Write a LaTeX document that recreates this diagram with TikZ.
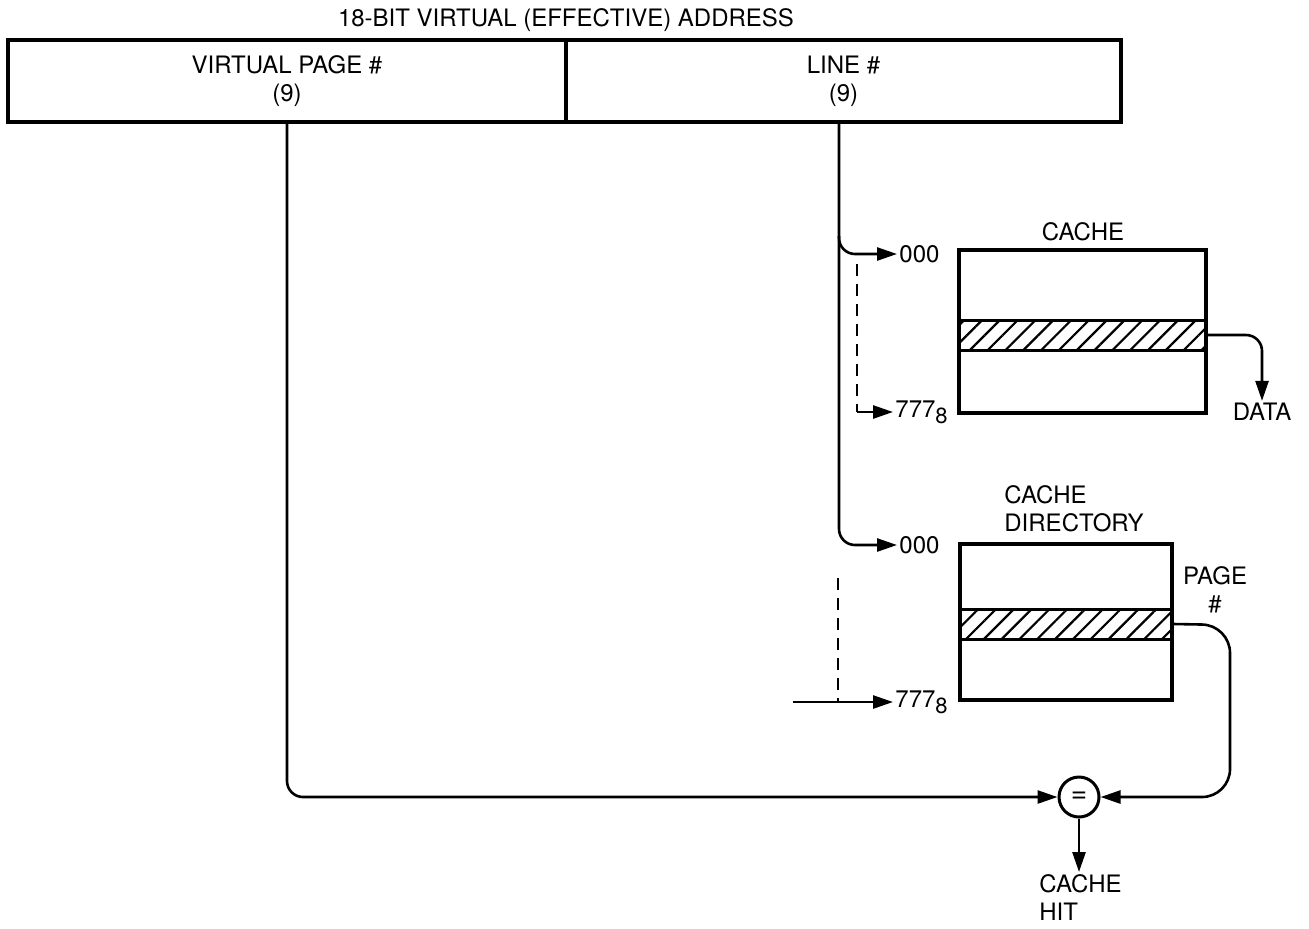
\documentclass[tikz,border=0pt]{standalone}
\usepackage{fontspec}
\setmainfont{TeX Gyre Heros}
\usepackage{tikz}
\usetikzlibrary{arrows.meta, positioning, calc, patterns.meta}

\begin{document}
\begin{tikzpicture}[
  x=0.5pt, y=-0.5pt,
  >={Triangle[length=10pt, width=6.5pt]},
  font=\fontsize{12}{14}\selectfont,
  field/.style={
    draw, line width=1.6pt, minimum height=41pt, align=center,
    inner sep=0pt
  },
  membox/.style={draw, line width=1.6pt, inner sep=0pt},
  band/.style={
    draw, line width=1.5pt, inner sep=0pt, minimum height=15pt,
    pattern={Lines[angle=45, distance=6.3pt, line width=1.1pt]}
  },
  lbl/.style={inner sep=1pt},
  wire/.style={line width=1.3pt, rounded corners=8pt},
  flow/.style={wire, ->},
  dashwire/.style={line width=1.3pt, dash pattern=on 6pt off 4pt},
  cmpnode/.style={circle, draw, line width=1.5pt, minimum size=20pt, inner sep=0pt,
    font=\fontsize{14}{14}\selectfont},
]
\useasboundingbox (0,0) rectangle (1309,928);

% Address fields
\node[lbl] (title) at (566,20) {18-BIT VIRTUAL (EFFECTIVE) ADDRESS};
\node[field, minimum width=279pt] (vpage) at (287,81) {VIRTUAL PAGE \#\\(9)};
\node[field, minimum width=277.5pt] (linef) at (843.5,81) {LINE \#\\(9)};

% Cache
\node[membox, minimum width=123.5pt, minimum height=81.5pt] (cache) at (1082.5,331.5) {};
\node[band, minimum width=123.5pt] (cline) at (1082.5,335) {};
\node[lbl] (cachelbl) at (1083,232) {CACHE};
\node[lbl, anchor=west] (c0) at (897,254) {000};
\node[lbl, anchor=west] (c7) at (893,412) {777\raisebox{-0.45ex}{\fontsize{11}{13}\selectfont 8}};
\node[lbl] (data) at (1262,412) {DATA};

% Cache directory
\node[membox, minimum width=106pt, minimum height=78pt] (dir) at (1066,622) {};
\node[band, minimum width=106pt] (dline) at (1066,624) {};
\node[lbl, align=left, anchor=north west] (dirlbl) at (1002,483) {CACHE\\DIRECTORY};
\node[lbl, align=center] (pagelbl) at (1215,590) {PAGE\\\#};
\node[lbl, anchor=west] (d0) at (897,545) {000};
\node[lbl, anchor=west] (d7) at (893,702) {777\raisebox{-0.45ex}{\fontsize{11}{13}\selectfont 8}};

% Comparator
\node[cmpnode] (cmp) at (1079,797) {=};
\node[lbl, align=left, anchor=north west] (hit) at (1037,872) {CACHE\\HIT};

% Tap points
\coordinate (tapA) at (839,236);
\coordinate (dashA) at (857,264);
\coordinate (dashB) at (838,578);
\coordinate (feed) at (793,700);
\coordinate (pgturn) at (1230,625);

% Line number to cache and directory
\draw[flow] (linef.south -| tapA) |- (d0.west);
\draw[flow] (tapA) |- (c0.west);
\draw[dashwire] (dashA) -- (dashA |- c7.west);
\draw[flow] (dashA |- c7.west) -- (c7.west);
\draw[dashwire] (dashB) -- (dashB |- d7.west);
\draw[flow] (feed |- d7.west) -- (d7.west);

% Data out
\draw[flow] (cline.east) -| (data.north);

% Compare
\draw[flow] (vpage.south) |- (cmp.west);
\draw[flow, rounded corners=14pt] (dline.east) -- (pgturn) |- (cmp.east);
\draw[flow] (cmp.south) -- (hit.north -| cmp.south);

\end{tikzpicture}
\end{document}
